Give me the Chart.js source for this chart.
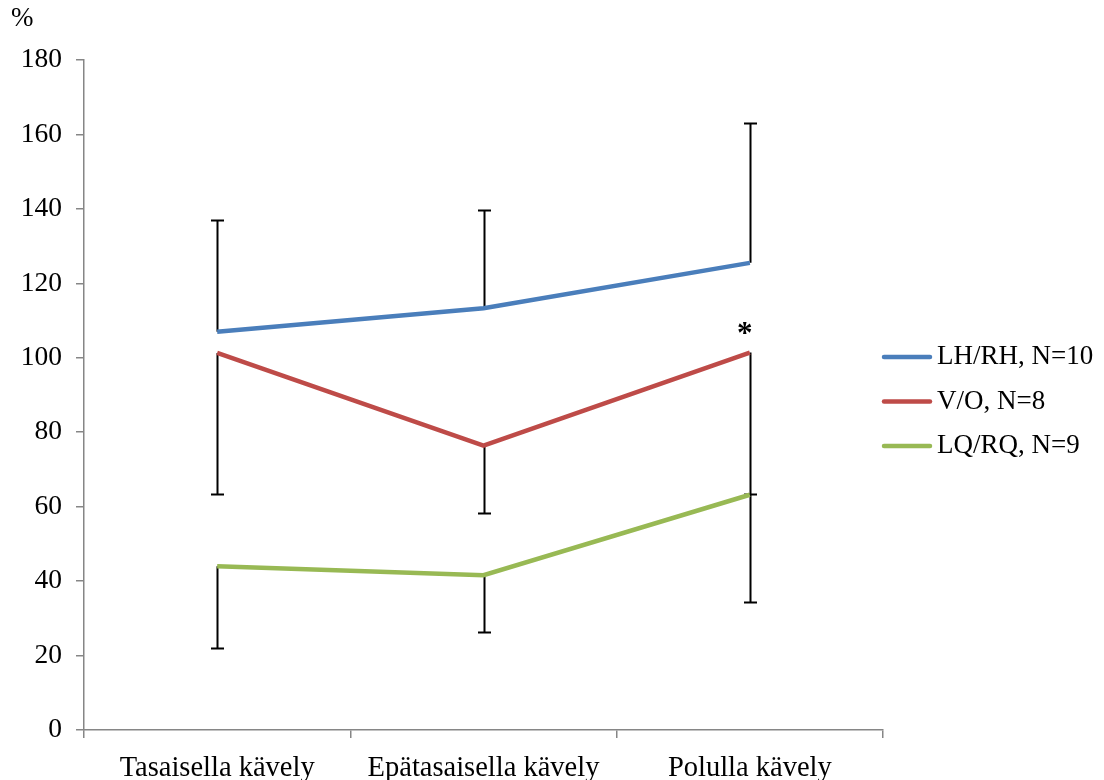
<!DOCTYPE html>
<html>
<head>
<meta charset="utf-8">
<style>
  html, body { margin: 0; padding: 0; background: #ffffff; }
  #wrap { width: 1104px; height: 780px; position: relative; }
</style>
<script src="https://cdn.jsdelivr.net/npm/chart.js@4.4.1/dist/chart.umd.min.js"></script>
</head>
<body>
<div id="wrap"><canvas id="chart" width="1104" height="780"></canvas></div>
<script>
// Walking conditions on the x axis
const categories = ['Tasaisella kävely', 'Epätasaisella kävely', 'Polulla kävely'];
const seriesNames = ['LH/RH, N=10', 'V/O, N=8', 'LQ/RQ, N=9'];

// Mean values (%)
const lhRh = [107, 113.3, 125.5];
const vO   = [101.3, 76.4, 101.4];
const lqRq = [44, 41.6, 63.2];

// Standard deviations, drawn one-sided
const lhRhSdUp   = [30, 26.5, 37.7];
const vOSdDown   = [38, 18.1, 38];
const lqRqSdDown = [22, 15.3, 28.7];

// Significance marks above the V/O line
const vOMarks = ['', '', '*'];

// Value axis
const yMin = 0, yMax = 180, yStep = 20;
const yUnit = '%';

const FONT = "'Liberation Serif', 'Times New Roman', serif";
const colors = ['#4a7ebb', '#be4b48', '#98b954'];

// One-sided error bars, drawn under the lines
const errorBars = {
  id: 'errorBars',
  beforeDatasetsDraw(chart) {
    const ctx = chart.ctx;
    const ys = chart.scales.y;
    ctx.save();
    ctx.strokeStyle = '#000000';
    ctx.lineWidth = 2;
    chart.data.datasets.forEach((ds, di) => {
      const meta = chart.getDatasetMeta(di);
      ds.data.forEach((v, i) => {
        const pt = meta.data[i];
        const x = Math.round(pt.x) + 0.5;
        const y0 = ys.getPixelForValue(v);
        const ends = [];
        if (ds.errUp) ends.push(v + ds.errUp[i]);
        if (ds.errDown) ends.push(v - ds.errDown[i]);
        ends.forEach(e => {
          const y1 = Math.round(ys.getPixelForValue(e)) + 0.5;
          ctx.beginPath();
          ctx.moveTo(x, y0);
          ctx.lineTo(x, y1);
          ctx.moveTo(x - 6.5, y1);
          ctx.lineTo(x + 6.5, y1);
          ctx.stroke();
        });
      });
    });
    ctx.restore();
  }
};

// Significance marks and the legend at the right of the plot
const extras = {
  id: 'extras',
  afterDatasetsDraw(chart) {
    const ctx = chart.ctx;
    const area = chart.chartArea;
    ctx.save();
    // asterisks
    const meta = chart.getDatasetMeta(1);
    ctx.fillStyle = '#000000';
    ctx.font = 'bold 31px ' + FONT;
    ctx.textAlign = 'center';
    ctx.textBaseline = 'alphabetic';
    vOMarks.forEach((m, i) => {
      if (!m) return;
      const pt = meta.data[i];
      ctx.fillText(m, pt.x - 5, pt.y - 10);
    });
    // legend
    ctx.font = '27px ' + FONT;
    const cy = (area.top + area.bottom) / 2 + 6.5;
    const rowGap = 44.5;
    const x0 = area.right - 1;
    chart.data.datasets.forEach((ds, i) => {
      const y = cy + (i - 1) * rowGap;
      ctx.strokeStyle = ds.borderColor;
      ctx.lineWidth = 4.5;
      ctx.lineCap = 'round';
      ctx.beginPath();
      ctx.moveTo(x0 + 2, y);
      ctx.lineTo(x0 + 48, y);
      ctx.stroke();
      ctx.fillStyle = '#000000';
      ctx.textAlign = 'left';
      ctx.textBaseline = 'middle';
      ctx.fillText(ds.label, x0 + 55, y);
    });
    ctx.restore();
  }
};

const makeSet = (i, data, extra) => Object.assign({
  label: seriesNames[i],
  data: data,
  borderColor: colors[i],
  backgroundColor: colors[i],
  borderWidth: 4.5,
  pointRadius: 0,
  pointHoverRadius: 0,
  tension: 0,
  fill: false
}, extra);

new Chart(document.getElementById('chart'), {
  type: 'line',
  data: {
    labels: categories,
    datasets: [
      makeSet(0, lhRh, { errUp: lhRhSdUp }),
      makeSet(1, vO, { errDown: vOSdDown }),
      makeSet(2, lqRq, { errDown: lqRqSdDown })
    ]
  },
  options: {
    responsive: false,
    animation: false,
    devicePixelRatio: 1,
    layout: { padding: { left: 11, right: 221, top: 0, bottom: 0 } },
    plugins: {
      legend: { display: false },
      tooltip: { enabled: false },
      title: {
        display: true,
        text: yUnit,
        align: 'start',
        color: '#000000',
        font: { family: FONT, size: 27, weight: 'normal', lineHeight: 1.2 },
        padding: { top: 3, bottom: 24.6 }
      }
    },
    scales: {
      x: {
        type: 'category',
        offset: true,
        grid: {
          offset: true,
          drawOnChartArea: false,
          drawTicks: true,
          tickLength: 8,
          color: '#868686',
          lineWidth: 1.5
        },
        border: { display: true, color: '#868686', width: 1.5 },
        ticks: {
          color: '#000000',
          font: { family: FONT, size: 28.5 },
          padding: 13,
          maxRotation: 0,
          autoSkip: false
        },
        afterFit(scale) { scale.height = 50; }
      },
      y: {
        min: yMin,
        max: yMax,
        grid: {
          drawOnChartArea: false,
          drawTicks: true,
          tickLength: 8,
          color: '#868686',
          lineWidth: 1.5
        },
        border: { display: true, color: '#868686', width: 1.5 },
        ticks: {
          stepSize: yStep,
          color: '#000000',
          font: { family: FONT, size: 27.5 },
          padding: 14
        },
        afterFit(scale) { scale.width = 73; }
      }
    }
  },
  plugins: [errorBars, extras]
});
</script>
</body>
</html>
